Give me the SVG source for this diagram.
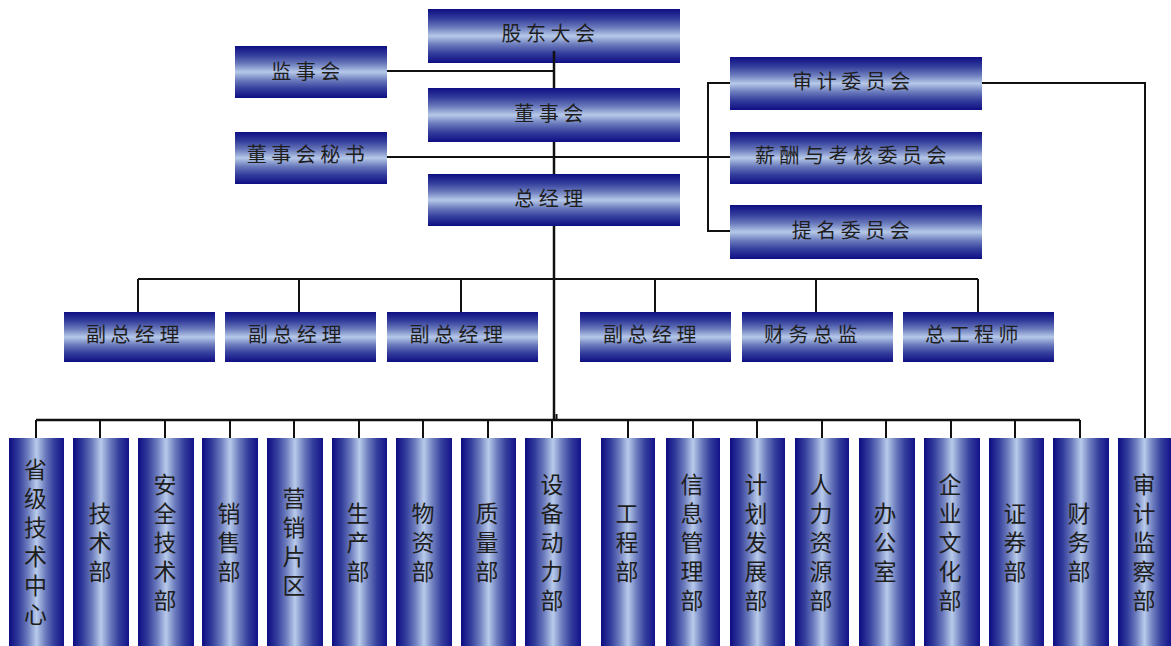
<svg xmlns="http://www.w3.org/2000/svg" width="1171" height="646" viewBox="0 0 1171 646">
  <defs>
    <!-- horizontal boxes: dark edges top/bottom, light band in the middle -->
    <linearGradient id="gH" x1="0" y1="0" x2="0" y2="1">
      <stop offset="0" stop-color="#0e0e84"/>
      <stop offset="0.18" stop-color="#343e9c"/>
      <stop offset="0.34" stop-color="#6a7abc"/>
      <stop offset="0.5" stop-color="#b6c9e9"/>
      <stop offset="0.66" stop-color="#6a7abc"/>
      <stop offset="0.82" stop-color="#343e9c"/>
      <stop offset="1" stop-color="#0e0e84"/>
    </linearGradient>
    <!-- vertical columns: dark edges left/right, light band in the middle -->
    <linearGradient id="gV" x1="0" y1="0" x2="1" y2="0">
      <stop offset="0" stop-color="#0c0c82"/>
      <stop offset="0.18" stop-color="#343e9c"/>
      <stop offset="0.34" stop-color="#6c7cbe"/>
      <stop offset="0.5" stop-color="#b8cbea"/>
      <stop offset="0.66" stop-color="#6c7cbe"/>
      <stop offset="0.82" stop-color="#343e9c"/>
      <stop offset="1" stop-color="#12128a"/>
    </linearGradient>
    <style>
      .hb { fill: url(#gH); }
      .vb { fill: url(#gV); }
      .ht { font-family: "Noto Sans CJK SC", "Noto Sans", sans-serif; font-size: 20px; letter-spacing: 4.5px; fill: #1e1e1e; text-anchor: middle; }
      .vt { font-family: "Noto Sans CJK SC", "Noto Sans", sans-serif; font-size: 23px; letter-spacing: 6px; fill: #1e1e1e; text-anchor: middle; writing-mode: vertical-rl; }
      .ln { stroke: #111; stroke-width: 2; fill: none; }
      .main { stroke: #111; stroke-width: 2.5; fill: none; }
    </style>
  </defs>
  <rect width="1171" height="646" fill="#fff"/>

  <!-- connectors -->
  <g id="connectors">
    <line class="ln" x1="387" y1="71" x2="554" y2="71"/>
    <line class="ln" x1="387" y1="157" x2="730" y2="157"/>
    <polyline class="ln" points="730,83 708,83 708,231 730,231"/>
    <polyline class="ln" points="982,83 1145,83 1145,438"/>
    <!-- deputy level -->
    <line class="ln" x1="138" y1="279" x2="978" y2="279"/>
    <line class="ln" x1="138" y1="279" x2="138" y2="312"/>
    <line class="ln" x1="299" y1="279" x2="299" y2="312"/>
    <line class="ln" x1="461" y1="279" x2="461" y2="312"/>
    <line class="ln" x1="655" y1="279" x2="655" y2="312"/>
    <line class="ln" x1="816" y1="279" x2="816" y2="312"/>
    <line class="ln" x1="978" y1="279" x2="978" y2="312"/>
    <!-- department level -->
    <line class="main" x1="36" y1="420" x2="1080" y2="420"/>
    <line class="ln" x1="36" y1="420" x2="36" y2="438"/>
    <line class="ln" x1="100" y1="420" x2="100" y2="438"/>
    <line class="ln" x1="165" y1="420" x2="165" y2="438"/>
    <line class="ln" x1="230" y1="420" x2="230" y2="438"/>
    <line class="ln" x1="294" y1="420" x2="294" y2="438"/>
    <line class="ln" x1="359" y1="420" x2="359" y2="438"/>
    <line class="ln" x1="423" y1="420" x2="423" y2="438"/>
    <line class="ln" x1="488" y1="420" x2="488" y2="438"/>
    <line class="ln" x1="552" y1="420" x2="552" y2="438"/>
    <line class="ln" x1="628" y1="420" x2="628" y2="438"/>
    <line class="ln" x1="693" y1="420" x2="693" y2="438"/>
    <line class="ln" x1="757" y1="420" x2="757" y2="438"/>
    <line class="ln" x1="822" y1="420" x2="822" y2="438"/>
    <line class="ln" x1="886" y1="420" x2="886" y2="438"/>
    <line class="ln" x1="951" y1="420" x2="951" y2="438"/>
    <line class="ln" x1="1015" y1="420" x2="1015" y2="438"/>
    <line class="ln" x1="1080" y1="420" x2="1080" y2="438"/>
    <rect x="555.5" y="414" width="2" height="6" fill="#111"/>
  </g>

  <!-- top level -->
  <g id="gudong"><rect class="hb" x="428" y="9" width="252" height="54"/><text class="ht" x="550.5" y="41">股东大会</text></g>
  <g id="jianshi"><rect class="hb" x="235" y="46" width="152" height="52"/><text class="ht" x="308" y="79">监事会</text></g>
  <g id="dongshi"><rect class="hb" x="428" y="88" width="252" height="54"/><text class="ht" x="551" y="121">董事会</text></g>
  <g id="mishu"><rect class="hb" x="235" y="132" width="152" height="52"/><text class="ht" x="308" y="162">董事会秘书</text></g>
  <g id="zongjingli"><rect class="hb" x="428" y="174" width="252" height="52"/><text class="ht" x="551" y="206">总经理</text></g>
  <g id="shenji-wyh"><rect class="hb" x="730" y="57" width="252" height="53"/><text class="ht" x="853.5" y="89">审计委员会</text></g>
  <g id="xinchou-wyh"><rect class="hb" x="730" y="132" width="252" height="52"/><text class="ht" x="853" y="163">薪酬与考核委员会</text></g>
  <g id="timing-wyh"><rect class="hb" x="730" y="205" width="252" height="54"/><text class="ht" x="853" y="238">提名委员会</text></g>

  <!-- connector segments on the main axis -->
  <g id="axis">
    <line class="main" x1="554" y1="51" x2="554" y2="88"/>
    <line class="main" x1="554" y1="142" x2="554" y2="174"/>
    <line class="main" x1="554" y1="226" x2="554" y2="420"/>
  </g>

  <!-- deputies -->
  <g id="fz1"><rect class="hb" x="64" y="312" width="151" height="50"/><text class="ht" x="135" y="342">副总经理</text></g>
  <g id="fz2"><rect class="hb" x="225" y="312" width="151" height="50"/><text class="ht" x="297" y="342">副总经理</text></g>
  <g id="fz3"><rect class="hb" x="387" y="312" width="151" height="50"/><text class="ht" x="458.5" y="342">副总经理</text></g>
  <g id="fz4"><rect class="hb" x="580" y="312" width="151" height="50"/><text class="ht" x="652" y="342">副总经理</text></g>
  <g id="cwzj"><rect class="hb" x="742" y="312" width="151" height="50"/><text class="ht" x="813" y="342">财务总监</text></g>
  <g id="zgcs"><rect class="hb" x="903" y="312" width="151" height="50"/><text class="ht" x="974" y="342">总工程师</text></g>

  <!-- departments (vertical labels) -->
  <g id="d1"><rect class="vb" x="9" y="438" width="55" height="208"/><text class="vt" x="35.5" y="545">省级技术中心</text></g>
  <g id="d2"><rect class="vb" x="73" y="438" width="56" height="208"/><text class="vt" x="100" y="545">技术部</text></g>
  <g id="d3"><rect class="vb" x="138" y="438" width="56" height="208"/><text class="vt" x="165" y="545">安全技术部</text></g>
  <g id="d4"><rect class="vb" x="202" y="438" width="56" height="208"/><text class="vt" x="229" y="545">销售部</text></g>
  <g id="d5"><rect class="vb" x="267" y="438" width="56" height="208"/><text class="vt" x="294" y="545">营销片区</text></g>
  <g id="d6"><rect class="vb" x="332" y="438" width="55" height="208"/><text class="vt" x="358" y="545">生产部</text></g>
  <g id="d7"><rect class="vb" x="396" y="438" width="56" height="208"/><text class="vt" x="423" y="545">物资部</text></g>
  <g id="d8"><rect class="vb" x="461" y="438" width="55" height="208"/><text class="vt" x="487" y="545">质量部</text></g>
  <g id="d9"><rect class="vb" x="525" y="438" width="56" height="208"/><text class="vt" x="552" y="545">设备动力部</text></g>
  <g id="d10"><rect class="vb" x="601" y="438" width="54" height="208"/><text class="vt" x="627" y="545">工程部</text></g>
  <g id="d11"><rect class="vb" x="666" y="438" width="54" height="208"/><text class="vt" x="692" y="545">信息管理部</text></g>
  <g id="d12"><rect class="vb" x="730" y="438" width="55" height="208"/><text class="vt" x="756" y="545">计划发展部</text></g>
  <g id="d13"><rect class="vb" x="795" y="438" width="54" height="208"/><text class="vt" x="821" y="545">人力资源部</text></g>
  <g id="d14"><rect class="vb" x="859" y="438" width="56" height="208"/><text class="vt" x="885" y="545">办公室</text></g>
  <g id="d15"><rect class="vb" x="924" y="438" width="56" height="208"/><text class="vt" x="950" y="545">企业文化部</text></g>
  <g id="d16"><rect class="vb" x="989" y="438" width="55" height="208"/><text class="vt" x="1015" y="545">证券部</text></g>
  <g id="d17"><rect class="vb" x="1053" y="438" width="56" height="208"/><text class="vt" x="1079" y="545">财务部</text></g>
  <g id="d18"><rect class="vb" x="1118" y="438" width="53" height="208"/><text class="vt" x="1144" y="545">审计监察部</text></g>
</svg>
